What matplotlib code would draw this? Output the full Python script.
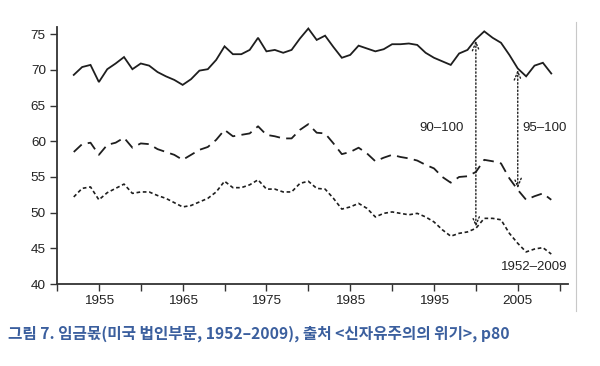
import matplotlib.pyplot as plt
from matplotlib.lines import Line2D

# 연도와 세 개의 시리즈
years = list(range(1952, 2010))

top_90_100 = [69.3, 70.4, 70.7, 68.3, 70.1, 70.9, 71.8, 70.1, 70.9, 70.6,
              69.7, 69.1, 68.6, 67.9, 68.7, 69.9, 70.1, 71.4, 73.3, 72.2,
              72.2, 72.8, 74.5, 72.6, 72.8, 72.4, 72.8, 74.4, 75.8, 74.2,
              74.8, 73.2, 71.7, 72.1, 73.4, 73.0, 72.6, 72.9, 73.6, 73.6,
              73.7, 73.5, 72.4, 71.7, 71.2, 70.7, 72.3, 72.8, 74.3, 75.4,
              74.5, 73.8, 72.1, 70.2, 69.1, 70.6, 71.0, 69.5]

mid_95_100 = [58.5, 59.6, 59.8, 58.1, 59.5, 59.8, 60.5, 59.1, 59.7, 59.6,
              58.9, 58.5, 58.1, 57.4, 58.1, 58.8, 59.2, 60.2, 61.6, 60.7,
              60.9, 61.1, 62.1, 60.9, 60.7, 60.4, 60.4, 61.6, 62.4, 61.2,
              61.1, 59.7, 58.2, 58.5, 59.1, 58.3, 57.2, 57.7, 58.1, 57.8,
              57.6, 57.3, 56.7, 56.2, 55.0, 54.2, 55.0, 55.1, 55.7, 57.4,
              57.2, 56.9, 54.8, 53.2, 51.8, 52.3, 52.7, 51.8]

bottom = [52.2, 53.4, 53.6, 51.8, 52.8, 53.4, 54.0, 52.7, 52.9, 52.9,
          52.4, 52.0, 51.4, 50.8, 51.0, 51.5, 52.0, 52.9, 54.4, 53.5,
          53.5, 53.9, 54.6, 53.3, 53.3, 52.9, 52.9, 54.1, 54.4, 53.4,
          53.3, 52.0, 50.5, 50.8, 51.3, 50.6, 49.4, 49.9, 50.1, 49.9,
          49.7, 49.9, 49.4, 48.7, 47.6, 46.7, 47.1, 47.3, 47.8, 49.2,
          49.2, 49.0, 47.1, 45.7, 44.5, 44.9, 45.1, 44.2]

x_ticks = list(range(1950, 2015, 5))
x_labels = ["" if y % 10 == 0 else str(y) for y in x_ticks]
y_ticks = [40, 45, 50, 55, 60, 65, 70, 75]

caption = "그림 7. 임금몫(미국 법인부문, 1952–2009), 출처 <신자유주의의 위기>, p80"

plt.rcParams['font.family'] = ['Liberation Sans', 'DejaVu Sans']

fig = plt.figure(figsize=(6, 3.66), dpi=100)
ax = fig.add_axes([0.095, 0.224, 0.8517, 0.702])

ink = "#1e1e1e"
ax.plot(years, top_90_100, color=ink, lw=1.3, solid_joinstyle="miter")
ax.plot(years, mid_95_100, color=ink, lw=1.3, dashes=(6, 3.5))
ax.plot(years, bottom, color=ink, lw=1.2, dashes=(2.2, 1.6))

# 차이를 보여주는 점선 양방향 화살표
i2000 = years.index(2000)
i2005 = years.index(2005)
ax.annotate("", xy=(2000, bottom[i2000]), xytext=(2000, top_90_100[i2000]),
            arrowprops=dict(arrowstyle="<->,head_length=0.6,head_width=0.25",
                            color=ink, lw=1.0, linestyle=":",
                            shrinkA=1, shrinkB=1))
ax.annotate("", xy=(2005, mid_95_100[i2005]), xytext=(2005, top_90_100[i2005]),
            arrowprops=dict(arrowstyle="<->,head_length=0.6,head_width=0.25",
                            color=ink, lw=1.0, linestyle=":",
                            shrinkA=1, shrinkB=1))

ax.text(1998.6, 61.8, "90–100", ha="right", va="center", fontsize=9.5, color="#222222")
ax.text(2005.6, 61.8, "95–100", ha="left", va="center", fontsize=9.5, color="#222222",
        clip_on=False)
ax.text(2010.9, 42.4, "1952–2009", ha="right", va="center", fontsize=9.5, color="#222222")

ax.set_xlim(1950, 2011)
ax.set_ylim(40, 76)
ax.set_xticks(x_ticks)
ax.set_xticklabels(x_labels)
ax.set_yticks(y_ticks)
ax.tick_params(axis="both", direction="out", length=5, width=1.0, colors="#333333",
               labelsize=9.7, labelcolor="#222222", pad=3)

for side in ["top", "right"]:
    ax.spines[side].set_visible(False)
for side in ["left", "bottom"]:
    ax.spines[side].set_color("#333333")
    ax.spines[side].set_linewidth(1.3)

# 원본 스캔 가장자리의 얇은 세로선
fig.add_artist(Line2D([576 / 600, 576 / 600], [0.15, 0.94], color="#c8c8c8", lw=0.8))

fig.text(8 / 600, 1 - 334 / 366, caption, ha="left", va="center", fontsize=11.3,
         fontweight="bold", color="#3b5f9e",
         family=["Noto Sans CJK KR", "DejaVu Sans"])

fig.savefig("out.png", dpi=100)
